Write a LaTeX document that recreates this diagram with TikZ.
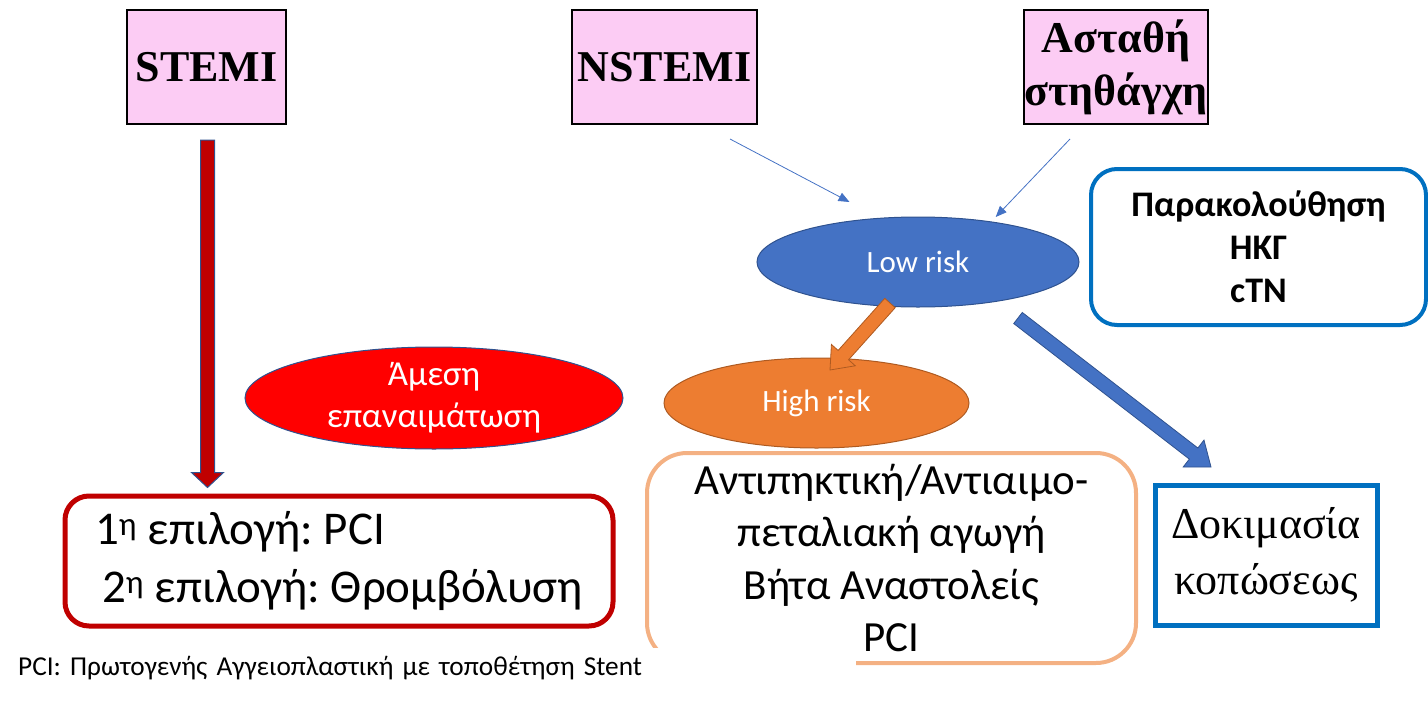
\documentclass[tikz,border=0pt]{standalone}
\usepackage{fontspec}
\setmainfont{Carlito}
\newfontfamily\serifgr{Liberation Serif}
\usepackage{xcolor}
\usetikzlibrary{arrows.meta,shapes.geometric,calc}

\definecolor{pinkbox}{RGB}{252,204,244}
\definecolor{darkred}{RGB}{192,0,0}
\definecolor{acblue}{RGB}{68,114,196}
\definecolor{acbluedk}{RGB}{47,82,143}
\definecolor{acorange}{RGB}{237,125,49}
\definecolor{acorangedk}{RGB}{174,90,33}
\definecolor{boxblue}{RGB}{0,112,192}
\definecolor{peach}{RGB}{244,177,131}

% wide arrow: style, from, to, half shaft, half head, head length
\newcommand{\blockarrow}[6]{%
  \coordinate (ba-h) at ($(#3)!#6!(#2)$);
  \filldraw[#1] ($(#2)!#4!90:(#3)$) -- ($(ba-h)!#4!90:(#3)$) -- ($(ba-h)!#5!90:(#3)$) -- (#3)
    -- ($(ba-h)!#5!-90:(#3)$) -- ($(ba-h)!#4!-90:(#3)$) -- ($(#2)!#4!-90:(#3)$) -- cycle;
}

\begin{document}
\frenchspacing
\begin{tikzpicture}[x=1pt, y=-1pt,
  titlebox/.style={draw=black, line width=2pt, fill=pinkbox, inner sep=0pt, align=center, minimum height=114pt, font=\serifgr\bfseries\fontsize{44}{53}\selectfont},
  riskoval/.style={ellipse, inner sep=0pt, text=white, line width=1pt, align=center},
  thinarrow/.style={draw=acblue, line width=0.8pt, -{Triangle[length=11pt,width=9pt]}}]

\useasboundingbox (0,0) rectangle (1428,710);

% Top row
\node[titlebox, minimum width=159pt] (stemi) at (206.5,67) {STEMI};
\node[titlebox, minimum width=185pt] (nstemi) at (664.5,67) {NSTEMI};
\node[titlebox, minimum width=184pt] (unstable) at (1116,67) {Ασταθή\\στηθάγχη};

% STEMI branch
\node[riskoval, fill=red, draw=acbluedk, minimum width=378pt, minimum height=102pt, font=\fontsize{35}{42}\selectfont] (reperf) at (434,398) {Άμεση\\επαναιμάτωση};
\node[draw=darkred, line width=5pt, rounded corners=24pt, minimum width=548pt, minimum height=130pt, align=left, font=\fontsize{47}{58}\selectfont] (opt) at (339,561) {1\textsuperscript{η} επιλογή: PCI\\\hspace{7pt}2\textsuperscript{η} επιλογή: Θρομβόλυση};

% NSTEMI branch
\node[riskoval, fill=acblue, draw=acbluedk, minimum width=322pt, minimum height=90pt, font=\fontsize{31}{37}\selectfont] (low) at (918,262) {Low risk};
\node[riskoval, fill=acorange, draw=acorangedk, minimum width=305pt, minimum height=90pt, font=\fontsize{31}{37}\selectfont] (high) at (816.5,403) {High risk};
\node[draw=boxblue, line width=4pt, rounded corners=26pt, minimum width=335pt, minimum height=156pt, align=center, font=\bfseries\fontsize{36}{43}\selectfont] (monitor) at (1258.5,247) {Παρακολούθηση\\ΗΚΓ\\cTN};
\node[draw=peach, line width=4pt, rounded corners=40pt, minimum width=489pt, minimum height=210pt, align=center, font=\fontsize{43}{52.5}\selectfont] (treat) at (891.5,558) {Αντιπηκτική/Αντιαιμο-\\πεταλιακή αγωγή\\Βήτα Αναστολείς\\PCI};
\node[draw=boxblue, line width=5pt, minimum width=222pt, minimum height=140pt, align=center, font=\serifgr\fontsize{44}{56}\selectfont] (stress) at (1266,555) {Δοκιμασία\\κοπώσεως};

% Footnote
\node[anchor=base west, fill=white, inner xsep=8pt, inner ysep=0pt, text height=27pt, text depth=10pt, text width=830pt, align=left, font=\fontsize{27.3}{32}\selectfont] (note) at (10,675) {PCI: Πρωτογενής Αγγειοπλαστική με τοποθέτηση Stent};

% Arrows
\coordinate (stemi-out) at ($(stemi.south)+(1,15)$);
\coordinate (opt-in) at ($(stemi.south |- opt.north)+(1,-6)$);
\blockarrow{fill=darkred, draw=acbluedk, line width=1pt}{stemi-out}{opt-in}{7pt}{16pt}{15pt}

\coordinate (nstemi-out) at (730,139);
\coordinate (low-in1) at (849.5,202);
\coordinate (unstable-out) at (1070,139);
\coordinate (low-in2) at (995.7,217);
\draw[thinarrow] (nstemi-out) -- (low-in1);
\draw[thinarrow] (unstable-out) -- (low-in2);

\coordinate (low-out1) at (890,303);
\coordinate (high-in) at (830,370);
\blockarrow{fill=acorange, draw=acorangedk, line width=0.8pt}{low-out1}{high-in}{7pt}{16pt}{20pt}

\coordinate (low-out2) at (1018,318);
\coordinate (stress-in) at (1211,467);
\blockarrow{fill=acblue, draw=acbluedk, line width=0.8pt}{low-out2}{stress-in}{7pt}{17pt}{22pt}

\end{tikzpicture}
\end{document}
